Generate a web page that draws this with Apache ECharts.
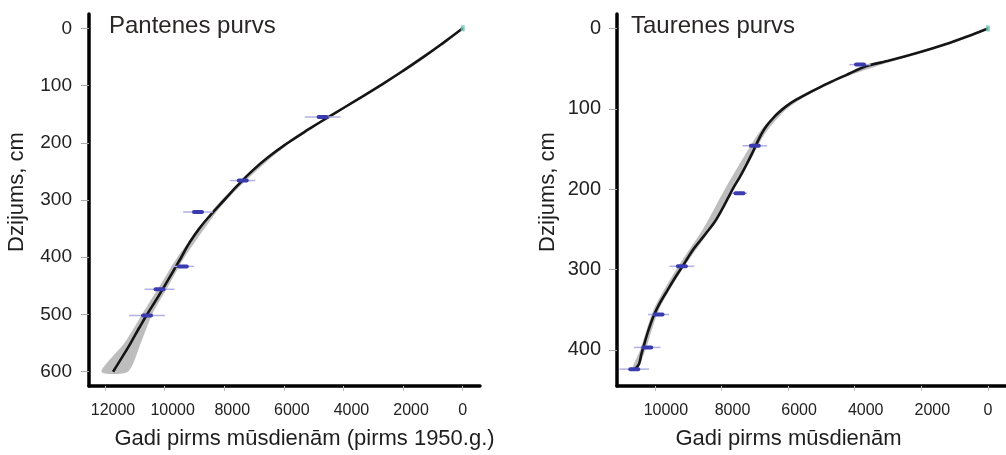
<!DOCTYPE html>
<html>
<head>
<meta charset="utf-8">
<script src="https://cdn.jsdelivr.net/npm/echarts@6/dist/echarts.min.js"></script>
<style>
  html, body { margin: 0; padding: 0; background: #fff; }
  #chart { width: 1006px; height: 455px; }
</style>
</head>
<body>
<div id="chart"></div>
<script>
// ---------- DATA ----------
const titles = ['Pantenes purvs', 'Taurenes purvs'];
const yAxisTitle = 'Dzijums, cm';
const xAxisTitles = ['Gadi pirms mūsdienām (pirms 1950.g.)', 'Gadi pirms mūsdienām'];

const pantXTicks = [0, 2000, 4000, 6000, 8000, 10000, 12000];
const pantYTicks = [0, 100, 200, 300, 400, 500, 600];
const taurXTicks = [0, 2000, 4000, 6000, 8000, 10000];
const taurYTicks = [0, 100, 200, 300, 400];

// age-depth model curve (depth cm, age cal BP)
const pantCurveDepth = [0, 25, 50, 75, 100, 125, 150, 175, 200, 225, 250, 275, 300, 325, 350, 375, 400, 425, 450, 475, 500, 525, 550, 575, 600];
const pantCurveAge   = [0, 640, 1310, 2020, 2770, 3550, 4340, 5120, 5860, 6520, 7080, 7560, 8000, 8440, 8840, 9170, 9440, 9720, 10000, 10290, 10590, 10870, 11140, 11430, 11730];
// uncertainty band
const pantBandDepth = [0, 100, 200, 300, 400, 450, 500, 550, 600];
const pantBandYoung = [0, 2720, 5800, 7920, 9330, 9870, 10420, 10800, 11230];
const pantBandOld   = [0, 2830, 5930, 8090, 9570, 10160, 10760, 11350, 12120];
// dated samples
const pantDateDepth = [155, 266, 321, 416, 456, 502];
const pantDateAge   = [4700, 7380, 8880, 9390, 10170, 10590];
const pantDateErr   = [600, 420, 500, 370, 500, 600];

const taurCurveDepth = [0, 10, 20, 30, 40, 47, 58, 68, 79, 89, 97, 105, 113, 122, 132, 143, 158, 172, 185, 196, 210, 225, 238, 250, 263, 275, 286, 296, 310, 325, 341, 357, 374, 390, 406, 418, 424];
const taurCurveAge   = [0, 620, 1300, 2080, 2960, 3660, 4260, 4790, 5320, 5770, 6060, 6290, 6480, 6660, 6810, 6940, 7110, 7280, 7450, 7610, 7790, 7980, 8160, 8370, 8620, 8850, 9020, 9170, 9390, 9610, 9840, 10030, 10180, 10300, 10410, 10480, 10600];
const taurBandDepth = [0, 20, 40, 60, 80, 100, 130, 160, 200, 250, 300, 350, 400, 424];
const taurBandYoung = [0, 1180, 2800, 4250, 5280, 6030, 6680, 7080, 7650, 8330, 9180, 9880, 10280, 10520];
const taurBandOld   = [0, 1340, 2980, 4420, 5460, 6220, 6880, 7330, 7900, 8560, 9360, 10040, 10440, 10680];
const taurDateDepth = [45, 146, 205, 296, 356, 397, 424];
const taurDateAge   = [3840, 7000, 7460, 9190, 9890, 10230, 10620];
const taurDateErr   = [320, 370, 220, 370, 320, 400, 445];

// ---------- CHART ----------
const FONT = 'Liberation Sans, Arial, Helvetica, sans-serif';
const chart = echarts.init(document.getElementById('chart'), null, { renderer: 'canvas' });

function pairs(ages, depths) { return depths.map((d, i) => [ages[i], d]); }

function xAxisCfg(idx, min, max, ticks, shift, namePad) {
  return {
    gridIndex: idx, type: 'value', inverse: true, min: min, max: max, position: 'bottom',
    name: xAxisTitles[idx], nameLocation: 'middle', nameGap: 42,
    nameTextStyle: { fontFamily: FONT, fontSize: 22, color: '#1e1e1e', padding: namePad },
    axisLine: { show: true, onZero: false, lineStyle: { color: '#000', width: 3.5 } },
    axisTick: { show: true, customValues: ticks, length: 5, lineStyle: { color: '#bbb', width: 1 } },
    axisLabel: {
      customValues: ticks, margin: 17, fontFamily: FONT, fontSize: 16, color: '#222',
      formatter: v => v === 0 ? '0' : '{s|' + v + '}',
      rich: { s: { fontFamily: FONT, fontSize: 16, color: '#222', padding: [0, 0, 0, shift] } }
    },
    splitLine: { show: false }
  };
}
function yAxisCfg(idx, min, max, ticks, gap, fs, margin) {
  return {
    gridIndex: idx, type: 'value', inverse: true, min: min, max: max, position: 'left',
    name: yAxisTitle, nameLocation: 'middle', nameGap: gap,
    nameTextStyle: { fontFamily: FONT, fontSize: 22, color: '#1e1e1e', padding: [0, 0, 0, 16] },
    axisLine: { show: true, onZero: false, lineStyle: { color: '#000', width: 3.5 } },
    axisTick: { show: true, customValues: ticks, length: 8, lineStyle: { color: '#aaa', width: 1 } },
    axisLabel: { customValues: ticks, margin: margin, fontFamily: FONT, fontSize: fs, color: '#222' },
    splitLine: { show: false }
  };
}
function bandSeries(idx, depth, young, old) {
  return {
    type: 'custom', xAxisIndex: idx, yAxisIndex: idx, silent: true, z: 1,
    data: [[young[0], depth[0]]], encode: { x: 0, y: 1 },
    renderItem: function (params, api) {
      const pts = [];
      for (let i = 0; i < depth.length; i++) pts.push(api.coord([young[i], depth[i]]));
      for (let i = depth.length - 1; i >= 0; i--) pts.push(api.coord([old[i], depth[i]]));
      return { type: 'polygon', shape: { points: pts, smooth: 0.25 }, style: { fill: '#bdbdbd' } };
    }
  };
}
function curveSeries(idx, ages, depths, sm) {
  return {
    type: 'line', xAxisIndex: idx, yAxisIndex: idx, z: 3, silent: true,
    data: pairs(ages, depths), smooth: sm, showSymbol: false,
    lineStyle: { color: '#151515', width: 2.6 }
  };
}
function dateSeries(idx, ages, depths, errs) {
  return {
    type: 'custom', xAxisIndex: idx, yAxisIndex: idx, z: 5, silent: true,
    data: depths.map((d, i) => [ages[i], d, errs[i]]), encode: { x: 0, y: 1 },
    renderItem: function (params, api) {
      const a = api.value(0), d = api.value(1), e = api.value(2);
      const p1 = api.coord([a - e, d]), p2 = api.coord([a + e, d]), c = api.coord([a, d]);
      return { type: 'group', children: [
        { type: 'line', shape: { x1: p1[0], y1: p1[1], x2: p2[0], y2: p2[1] },
          style: { stroke: '#b0b0e6', lineWidth: 1.5 } },
        { type: 'rect', shape: { x: c[0] - 6, y: c[1] - 2, width: 12, height: 4, r: 2 },
          style: { fill: '#3b3bb0' } }
      ]};
    }
  };
}
function zeroSeries(idx) {
  return {
    type: 'scatter', xAxisIndex: idx, yAxisIndex: idx, z: 6, silent: true,
    data: [[0, 0]], symbol: 'rect', symbolSize: [4, 6],
    itemStyle: { color: '#6cc2b2' }
  };
}

chart.setOption({
  animation: false,
  backgroundColor: '#fff',
  title: [
    { text: titles[0], left: 109, top: 14, padding: 0,
      textStyle: { fontFamily: FONT, fontSize: 24, fontWeight: 'normal', color: '#2a2626' } },
    { text: titles[1], left: 631, top: 14, padding: 0,
      textStyle: { fontFamily: FONT, fontSize: 24, fontWeight: 'normal', color: '#2a2626' } }
  ],
  grid: [
    { left: 89, top: 14, width: 391, height: 373 },
    { left: 617, top: 14, width: 393, height: 373 }
  ],
  xAxis: [
    xAxisCfg(0, -580, 12537, pantXTicks, 16, [0, 0, 0, 40]),
    xAxisCfg(1, -544, 11138, taurXTicks, 22, [0, 46, 0, 0])
  ],
  yAxis: [
    yAxisCfg(0, -25, 625, pantYTicks, 61, 19, 17),
    yAxisCfg(1, -18, 445, taurYTicks, 58, 20, 16)
  ],
  series: [
    bandSeries(0, pantBandDepth, pantBandYoung, pantBandOld),
    curveSeries(0, pantCurveAge, pantCurveDepth, 0.5),
    dateSeries(0, pantDateAge, pantDateDepth, pantDateErr),
    zeroSeries(0),
    bandSeries(1, taurBandDepth, taurBandYoung, taurBandOld),
    curveSeries(1, taurCurveAge, taurCurveDepth, 0.3),
    dateSeries(1, taurDateAge, taurDateDepth, taurDateErr),
    zeroSeries(1)
  ]
});
</script>
</body>
</html>
